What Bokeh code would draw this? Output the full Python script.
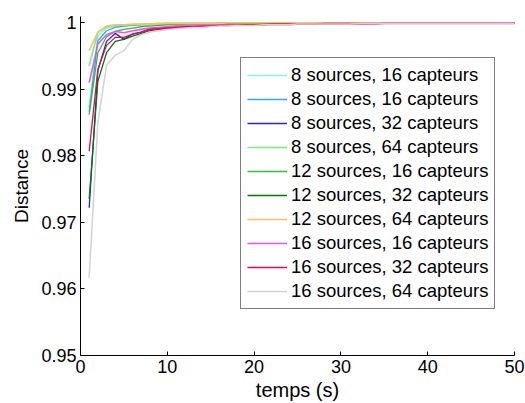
from bokeh.plotting import figure
from bokeh.models import FixedTicker, Legend, LegendItem, Range1d
from bokeh.embed import file_html
from bokeh.resources import INLINE

t = list(range(1, 51))

labels = ["8 sources, 16 capteurs", "8 sources, 16 capteurs", "8 sources, 32 capteurs",
          "8 sources, 64 capteurs", "12 sources, 16 capteurs", "12 sources, 32 capteurs",
          "12 sources, 64 capteurs", "16 sources, 16 capteurs", "16 sources, 32 capteurs",
          "16 sources, 64 capteurs"]

s8_16a = [0.9872, 0.9981, 0.9992, 0.9995, 0.9996, 0.9997, 0.9997, 0.9998, 0.9998, 0.9998,
          0.9998, 0.9999, 0.9999, 0.9999, 0.9999, 0.9999, 0.9999, 0.9999, 0.9999, 0.9999,
          0.9999, 0.9999, 0.9999, 0.9999, 0.9999, 0.9999, 0.9999, 0.9999, 0.9999, 0.9999,
          1.0000, 1.0000, 1.0000, 1.0000, 1.0000, 1.0000, 1.0000, 1.0000, 1.0000, 1.0000,
          1.0000, 1.0000, 1.0000, 1.0000, 1.0000, 1.0000, 1.0000, 1.0000, 1.0000, 1.0000]
s8_16b = [0.9866, 0.9973, 0.9988, 0.9993, 0.9995, 0.9996, 0.9997, 0.9997, 0.9998, 0.9998,
          0.9998, 0.9998, 0.9999, 0.9999, 0.9999, 0.9999, 0.9999, 0.9999, 0.9999, 0.9999,
          0.9999, 0.9999, 0.9999, 0.9999, 0.9999, 0.9999, 0.9999, 0.9999, 0.9999, 0.9999,
          0.9999, 1.0000, 1.0000, 1.0000, 1.0000, 1.0000, 1.0000, 1.0000, 1.0000, 1.0000,
          1.0000, 1.0000, 1.0000, 1.0000, 1.0000, 1.0000, 1.0000, 1.0000, 1.0000, 1.0000]
s8_32 = [0.9722, 0.9928, 0.9972, 0.9984, 0.9975, 0.9983, 0.9986, 0.9991, 0.9992, 0.9993,
         0.9994, 0.9995, 0.9995, 0.9996, 0.9996, 0.9997, 0.9997, 0.9997, 0.9998, 0.9998,
         0.9998, 0.9998, 0.9998, 0.9998, 0.9999, 0.9999, 0.9999, 0.9999, 0.9999, 0.9999,
         0.9999, 0.9999, 0.9999, 0.9999, 0.9999, 0.9999, 0.9999, 0.9999, 1.0000, 1.0000,
         1.0000, 1.0000, 1.0000, 1.0000, 1.0000, 1.0000, 1.0000, 1.0000, 1.0000, 1.0000]
s8_64 = [0.9935, 0.9986, 0.9994, 0.9996, 0.9997, 0.9997, 0.9998, 0.9998, 0.9998, 0.9999,
         0.9999, 0.9999, 0.9999, 0.9999, 0.9999, 0.9999, 0.9999, 0.9999, 0.9999, 0.9999,
         1.0000, 1.0000, 1.0000, 1.0000, 1.0000, 1.0000, 1.0000, 1.0000, 1.0000, 1.0000,
         1.0000, 1.0000, 1.0000, 1.0000, 1.0000, 1.0000, 1.0000, 1.0000, 1.0000, 1.0000,
         1.0000, 1.0000, 1.0000, 1.0000, 1.0000, 1.0000, 1.0000, 1.0000, 1.0000, 1.0000]
s12_16 = [0.9862, 0.9955, 0.9979, 0.9987, 0.9990, 0.9992, 0.9994, 0.9995, 0.9996, 0.9997,
          0.9997, 0.9998, 0.9998, 0.9998, 0.9998, 0.9999, 0.9999, 0.9999, 0.9999, 0.9999,
          0.9999, 0.9999, 0.9999, 0.9999, 0.9999, 0.9999, 0.9999, 0.9999, 0.9999, 0.9999,
          1.0000, 1.0000, 1.0000, 1.0000, 1.0000, 1.0000, 1.0000, 1.0000, 1.0000, 1.0000,
          1.0000, 1.0000, 1.0000, 1.0000, 1.0000, 1.0000, 1.0000, 1.0000, 1.0000, 1.0000]
s12_32 = [0.9735, 0.9912, 0.9955, 0.9972, 0.9975, 0.9980, 0.9984, 0.9988, 0.9990, 0.9991,
          0.9992, 0.9993, 0.9994, 0.9995, 0.9995, 0.9996, 0.9996, 0.9997, 0.9997, 0.9997,
          0.9998, 0.9998, 0.9998, 0.9998, 0.9998, 0.9999, 0.9999, 0.9999, 0.9999, 0.9999,
          0.9999, 0.9999, 0.9999, 0.9999, 0.9999, 0.9999, 0.9999, 0.9999, 0.9999, 1.0000,
          1.0000, 1.0000, 1.0000, 1.0000, 1.0000, 1.0000, 1.0000, 1.0000, 1.0000, 1.0000]
s12_64 = [0.9958, 0.9986, 0.9995, 0.9997, 0.9997, 0.9998, 0.9998, 0.9998, 0.9999, 0.9999,
          0.9999, 0.9999, 0.9999, 0.9999, 0.9999, 0.9999, 1.0000, 1.0000, 1.0000, 1.0000,
          1.0000, 1.0000, 1.0000, 1.0000, 1.0000, 1.0000, 1.0000, 1.0000, 1.0000, 1.0000,
          1.0000, 1.0000, 1.0000, 1.0000, 1.0000, 1.0000, 1.0000, 1.0000, 1.0000, 1.0000,
          1.0000, 1.0000, 1.0000, 1.0000, 1.0000, 1.0000, 1.0000, 1.0000, 1.0000, 1.0000]
s16_16 = [0.9910, 0.9968, 0.9982, 0.9987, 0.9985, 0.9988, 0.9990, 0.9992, 0.9993, 0.9994,
          0.9995, 0.9995, 0.9996, 0.9996, 0.9996, 0.9997, 0.9997, 0.9997, 0.9997, 0.9997,
          0.9997, 0.9997, 0.9997, 0.9997, 0.9998, 0.9998, 0.9998, 0.9998, 0.9998, 0.9998,
          0.9998, 0.9998, 0.9998, 0.9998, 0.9999, 0.9999, 0.9999, 0.9999, 0.9999, 0.9999,
          0.9999, 0.9999, 0.9999, 0.9999, 0.9999, 0.9999, 0.9999, 0.9999, 0.9999, 0.9999]
s16_32 = [0.9807, 0.9930, 0.9966, 0.9978, 0.9978, 0.9983, 0.9986, 0.9990, 0.9991, 0.9992,
          0.9993, 0.9994, 0.9994, 0.9995, 0.9995, 0.9996, 0.9996, 0.9996, 0.9997, 0.9997,
          0.9997, 0.9998, 0.9998, 0.9998, 0.9998, 0.9998, 0.9998, 0.9999, 0.9999, 0.9999,
          0.9999, 0.9999, 0.9999, 0.9999, 0.9999, 0.9999, 0.9999, 0.9999, 0.9999, 0.9999,
          0.9999, 0.9999, 0.9999, 0.9999, 0.9999, 0.9999, 0.9999, 0.9999, 0.9999, 0.9999]
s16_64 = [0.9617, 0.9850, 0.9936, 0.9951, 0.9958, 0.9975, 0.9982, 0.9986, 0.9988, 0.9990,
          0.9991, 0.9992, 0.9993, 0.9993, 0.9994, 0.9995, 0.9995, 0.9996, 0.9996, 0.9996,
          0.9997, 0.9997, 0.9997, 0.9997, 0.9998, 0.9998, 0.9998, 0.9998, 0.9998, 0.9998,
          0.9998, 0.9999, 0.9999, 0.9999, 0.9999, 0.9999, 0.9999, 0.9999, 0.9999, 0.9999,
          0.9999, 0.9999, 0.9999, 0.9999, 0.9999, 0.9999, 0.9999, 0.9999, 0.9999, 0.9999]

series = [s8_16a, s8_16b, s8_32, s8_64, s12_16, s12_32, s12_64, s16_16, s16_32, s16_64]
colors = ["#80f6f6", "#30a8f0", "#2424e0", "#78f078", "#30c030", "#007a00",
          "#ffc060", "#f050f0", "#f0005a", "#d2d2d2"]
widths = [1.6, 1.3, 1.3, 1.6, 1.3, 1.3, 1.6, 1.6, 1.3, 1.5]

x_ticks = [0, 10, 20, 30, 40, 50]
y_ticks = [0.95, 0.96, 0.97, 0.98, 0.99, 1.0]
x_label = "temps (s)"
y_label = "Distance"

FONT = "Liberation Sans"

p = figure(width=525, height=403, output_backend="svg", toolbar_location=None,
           x_range=Range1d(0, 50), y_range=Range1d(0.95, 1.00094),
           min_border_left=80, min_border_right=11, min_border_top=16, min_border_bottom=47)
p.background_fill_color = "white"
p.border_fill_color = "white"
p.outline_line_color = None
p.grid.visible = False

items = []
for ys, c, w, lab in zip(series, colors, widths, labels):
    r = p.line(t, ys, line_color=c, line_width=w)
    items.append(LegendItem(label=lab, renderers=[r]))

for ax in (p.xaxis[0], p.yaxis[0]):
    ax.major_tick_in = 4
    ax.major_tick_out = 0
    ax.minor_tick_line_color = None
    ax.axis_line_color = "black"
    ax.major_tick_line_color = "black"
    ax.major_label_text_font = FONT
    ax.major_label_text_font_size = "18px"
    ax.major_label_text_color = "black"
    ax.axis_label_text_font = FONT
    ax.axis_label_text_font_style = "normal"
    ax.axis_label_text_color = "black"

p.xaxis.ticker = FixedTicker(ticks=x_ticks)
p.yaxis.ticker = FixedTicker(ticks=y_ticks)
p.yaxis.major_label_overrides = {1.0: "1"}
p.xaxis.axis_label = x_label
p.yaxis.axis_label = y_label
p.xaxis.axis_label_text_font_size = "20px"
p.yaxis.axis_label_text_font_size = "19px"
p.xaxis.major_label_standoff = 4
p.xaxis.axis_label_standoff = 3
p.yaxis.major_label_standoff = 4
p.yaxis.axis_label_standoff = 6

legend = Legend(items=items, location=(160, 46))
legend.label_text_font = FONT
legend.label_text_font_size = "18.5px"
legend.label_text_color = "black"
legend.glyph_width = 40
legend.glyph_height = 20
legend.label_height = 20
legend.label_standoff = 4
legend.spacing = 2
legend.padding = 6
legend.margin = 0
legend.border_line_color = "black"
legend.border_line_width = 1
legend.background_fill_color = "white"
legend.background_fill_alpha = 1.0
p.add_layout(legend)

open("out.html", "w").write(file_html(p, INLINE))
